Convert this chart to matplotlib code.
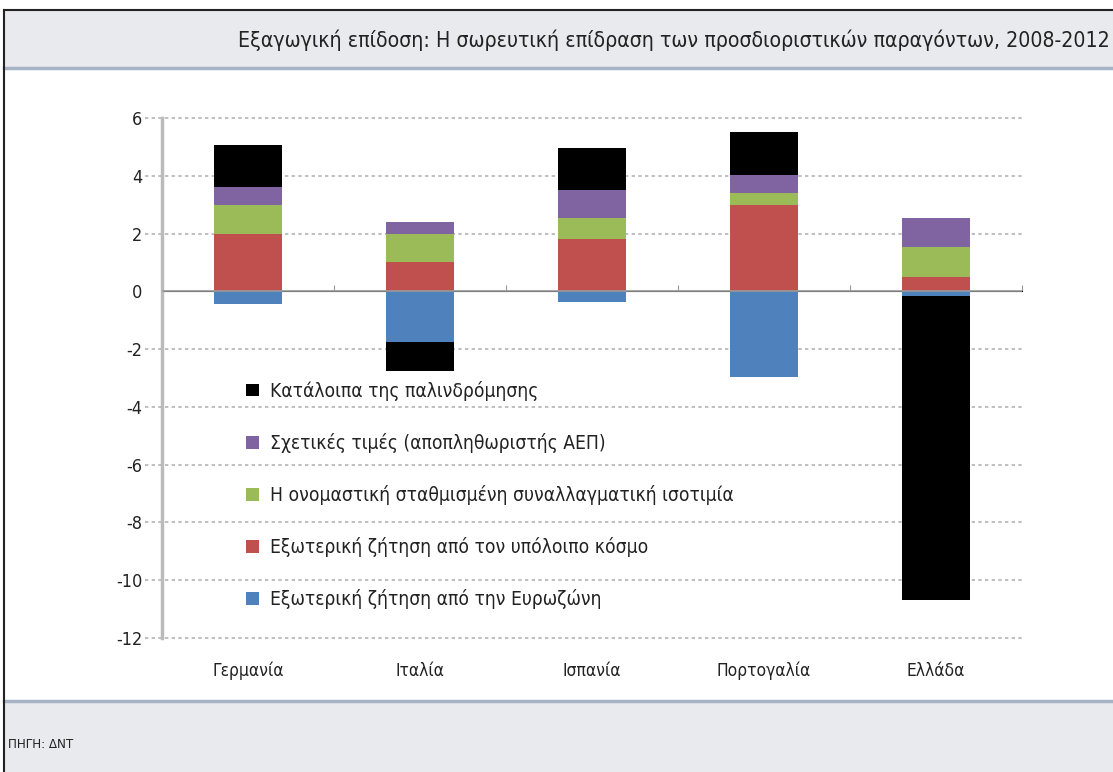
import numpy as np
import matplotlib
matplotlib.use("Agg")
import matplotlib.pyplot as plt
from matplotlib.patches import Rectangle, Patch

countries = ["Γερμανία", "Ιταλία", "Ισπανία", "Πορτογαλία", "Ελλάδα"]
series_names = [
    "Εξωτερική ζήτηση από την Ευρωζώνη",
    "Εξωτερική ζήτηση από τον υπόλοιπο κόσμο",
    "Η ονομαστική σταθμισμένη συναλλαγματική ισοτιμία",
    "Σχετικές τιμές (αποπληθωριστής ΑΕΠ)",
    "Κατάλοιπα της παλινδρόμησης",
]
eurozone = [-0.45, -1.76, -0.37, -2.97, -0.15]
rest_world = [2.0, 1.03, 1.82, 3.0, 0.49]
exch_rate = [1.0, 0.97, 0.72, 0.42, 1.04]
rel_prices = [0.6, 0.4, 0.98, 0.61, 1.01]
residuals = [1.45, -1.0, 1.43, 1.5, -10.53]
colors = ["#4F81BD", "#C0504D", "#9BBB59", "#8064A2", "#000000"]

title = "Εξαγωγική επίδοση: Η σωρευτική επίδραση των προσδιοριστικών παραγόντων, 2008-2012"
source = "ΠΗΓΗ: ΔΝΤ"
yticks = [6, 4, 2, 0, -2, -4, -6, -8, -10, -12]

plt.rcParams["font.family"] = ["DejaVu Sans"]
plt.rcParams["font.stretch"] = "condensed"

W, H = 1113, 772
fig = plt.figure(figsize=(W / 100, H / 100), dpi=100)

# header and footer bands
fig.patches.append(Rectangle((4 / W, 1 - 68 / H), 1, 58 / H, transform=fig.transFigure,
                             facecolor="#E9EAEE", edgecolor="none", zorder=0))
fig.add_artist(plt.Line2D([4 / W, 1], [1 - 68 / H] * 2, color="#A6B3C4", lw=2.5))
fig.patches.append(Rectangle((4 / W, 0), 1, 71 / H, transform=fig.transFigure,
                             facecolor="#E9EAEE", edgecolor="none", zorder=0))
fig.add_artist(plt.Line2D([4 / W, 1], [71 / H] * 2, color="#A6B3C4", lw=2.5))
fig.add_artist(plt.Line2D([4 / W, 4 / W], [0, 1 - 10 / H], color="#222222", lw=1.5))
fig.add_artist(plt.Line2D([4 / W, 1], [1 - 10 / H] * 2, color="#222222", lw=1.5))

fig.text(1110 / W, 1 - 40 / H, title, ha="right", va="center", fontsize=15.3, color="#222222")
fig.text(8 / W, 27 / H, source, ha="left", va="center", fontsize=9.5, color="#222222")

ax = fig.add_axes([162 / W, (H - 638) / H, 860 / W, 520 / H])
x = np.arange(len(countries))
width = 0.4

series = [eurozone, rest_world, exch_rate, rel_prices, residuals]
pos_base = np.zeros(len(countries))
neg_base = np.zeros(len(countries))
handles = []
for vals, c, name in zip(series, colors, series_names):
    vals = np.array(vals)
    base = np.where(vals >= 0, pos_base, neg_base)
    ax.bar(x, vals, width, bottom=base, color=c, edgecolor="none", zorder=3)
    pos_base = pos_base + np.where(vals >= 0, vals, 0)
    neg_base = neg_base + np.where(vals < 0, vals, 0)
    handles.append(Patch(facecolor=c, label=name))

ax.set_xlim(-0.5, len(countries) - 0.5)
ax.set_ylim(-12, 6)
ax.set_yticks(yticks)
ax.set_yticklabels([str(v) for v in yticks], fontsize=13, color="#222222")
for v in yticks:
    if v != 0:
        ax.axhline(v, color="#B4B4B4", lw=1.2, ls=(0, (2, 2)), zorder=1, xmin=-0.02, clip_on=False)
ax.axhline(0, color="#999999", lw=1.2, zorder=4)

for s in ["top", "right", "bottom"]:
    ax.spines[s].set_visible(False)
ax.spines["left"].set_color("#BBBBBB")
ax.spines["left"].set_linewidth(2.5)
ax.tick_params(axis="y", length=0, pad=14)

ax.set_xticks(x)
ax.set_xticklabels(countries, fontsize=12.5, color="#222222")
ax.tick_params(axis="x", length=0, pad=17)

# small tick marks at category boundaries on the zero line
y0 = (0 - (-12)) / (6 - (-12))
sec = ax.secondary_xaxis(y0)
sec.set_xticks(np.arange(len(countries) + 1) - 0.5)
sec.set_xticklabels([])
sec.tick_params(length=4, color="#999999", direction="out")
sec.spines["bottom"].set_visible(False)

leg = ax.legend(handles=handles[::-1], loc="upper left", bbox_to_anchor=(0.078, 0.528),
                frameon=False, fontsize=13.8, handlelength=0.66, handleheight=0.66,
                labelspacing=1.68, handletextpad=0.58)
for t in leg.get_texts():
    t.set_color("#222222")

fig.savefig("out.png", dpi=100)
